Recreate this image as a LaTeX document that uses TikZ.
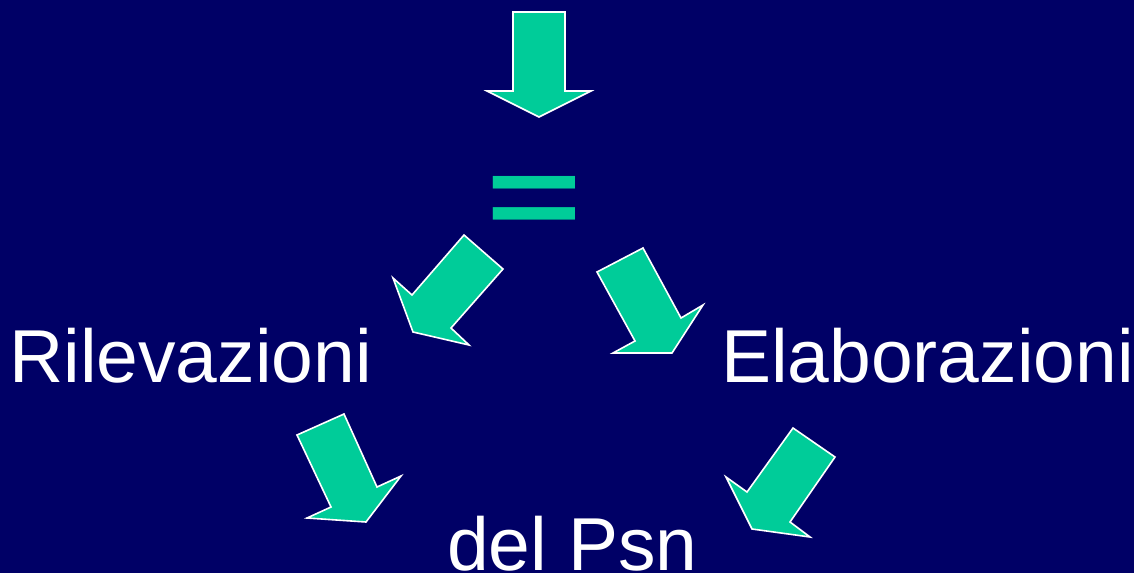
\documentclass[tikz,border=0pt]{standalone}
\usepackage{fontspec}
\setmainfont{Liberation Sans}
\definecolor{bg}{HTML}{000066}
\definecolor{arrowgreen}{HTML}{00CC99}
\begin{document}
\begin{tikzpicture}[x=1pt,y=-1pt,
  blockarrow/.style={fill=arrowgreen,draw=white,line width=1.6pt,line join=miter},
  bigtext/.style={text=white,font=\fontsize{75}{75}\selectfont,inner sep=0pt,anchor=base west}]
\fill[bg] (0,0) rectangle (1134,573);
\useasboundingbox (0,0) rectangle (1134,573);
% top arrow
\draw[blockarrow] (513,12) -- (565,12) -- (565,91) -- (591,91) -- (539,117) -- (487,91) -- (513,91) -- cycle;
% equals sign
\node[text=arrowgreen,font=\bfseries\fontsize{150}{150}\selectfont,inner sep=0pt,anchor=base,xscale=1.093,yscale=0.77] (eq) at (534.5,236) {=};
% arrow to Rilevazioni
\draw[blockarrow] (464,235) -- (503,269) -- (451,328) -- (469,345) -- (413,332) -- (393,278) -- (412,295) -- cycle;
% arrow to Elaborazioni
\draw[blockarrow] (597,272) -- (643,248) -- (681,318) -- (703,305) -- (672,353) -- (613,353) -- (635,341) -- cycle;
% arrow from Rilevazioni
\draw[blockarrow] (297,435) -- (344,414) -- (377,487) -- (401,476) -- (366,522) -- (307,518) -- (331,507) -- cycle;
% arrow from Elaborazioni
\draw[blockarrow] (793,428) -- (835,457) -- (790,522) -- (810,537) -- (752,529) -- (726,477) -- (747,492) -- cycle;
% texts
\node[bigtext] (ril) at (9,382) {Rilevazioni};
\node[bigtext] (ela) at (721,382) {Elaborazioni};
\node[bigtext] (psn) at (447,570) {del Psn};
\end{tikzpicture}
\end{document}
